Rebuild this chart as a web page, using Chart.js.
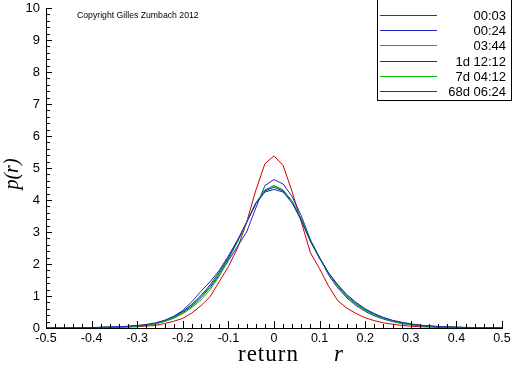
<!DOCTYPE html>
<html>
<head>
<meta charset="utf-8">
<script src="https://cdn.jsdelivr.net/npm/chart.js@4.4.1/dist/chart.umd.min.js"></script>
<style>
html,body{margin:0;padding:0;background:#fff;}
#wrap{width:512px;height:366px;position:relative;}
</style>
</head>
<body>
<div id="wrap"><canvas id="c" width="512" height="366"></canvas></div>
<script>
// return values r (bin centres)
const returns = [-0.5,-0.48,-0.46,-0.44,-0.42,-0.4,-0.38,-0.36,-0.34,-0.32,-0.3,-0.28,-0.26,-0.24,-0.22,-0.2,-0.18,-0.16,-0.14,-0.12,-0.1,-0.08,-0.06,-0.04,-0.02,0,0.02,0.04,0.06,0.08,0.1,0.12,0.14,0.16,0.18,0.2,0.22,0.24,0.26,0.28,0.3,0.32,0.34,0.36,0.38,0.4,0.42,0.44,0.46,0.48,0.5];

const seriesLabels = ["00:03","00:24","03:44","1d 12:12","7d 04:12","68d 06:24"];
const seriesColors = ["#cc0000","#2424c0","#00bb00","#2424c0","#00bb00","#2424c0"];

const p_0003 = [0.002,0.002,0.003,0.004,0.006,0.008,0.012,0.016,0.022,0.03,0.04,0.06,0.08,0.14,0.21,0.3,0.47,0.7,0.98,1.45,1.92,2.5,3.3,4.3,5.13,5.38,5.08,4.25,3.3,2.35,1.85,1.3,0.85,0.62,0.45,0.32,0.23,0.16,0.12,0.08,0.055,0.04,0.03,0.02,0.015,0.01,0.008,0.006,0.004,0.003,0.002];
const p_0024 = [0.003,0.004,0.005,0.007,0.009,0.012,0.017,0.024,0.033,0.045,0.065,0.09,0.14,0.21,0.32,0.48,0.68,0.95,1.27,1.65,2.1,2.55,3.0,3.75,4.45,4.64,4.5,4.1,3.5,2.75,2.2,1.65,1.25,0.94,0.7,0.52,0.38,0.28,0.2,0.14,0.1,0.07,0.05,0.035,0.025,0.018,0.013,0.009,0.006,0.004,0.003];
const p_0344 = [0.002,0.003,0.004,0.006,0.008,0.011,0.016,0.022,0.03,0.042,0.06,0.085,0.13,0.2,0.3,0.45,0.64,0.88,1.2,1.62,2.15,2.7,3.3,3.9,4.3,4.45,4.3,3.95,3.4,2.75,2.2,1.7,1.3,0.97,0.74,0.55,0.41,0.3,0.21,0.15,0.105,0.075,0.055,0.04,0.028,0.02,0.014,0.01,0.007,0.005,0.003];
const p_1d1212 = [0.003,0.004,0.005,0.007,0.01,0.014,0.02,0.028,0.038,0.052,0.075,0.1,0.15,0.23,0.36,0.55,0.82,1.15,1.45,1.8,2.25,2.75,3.3,3.9,4.28,4.4,4.28,3.95,3.38,2.72,2.18,1.7,1.32,1.0,0.77,0.58,0.44,0.32,0.23,0.17,0.12,0.085,0.06,0.045,0.032,0.023,0.016,0.011,0.008,0.005,0.004];
const p_7d0412 = [0.003,0.004,0.005,0.007,0.009,0.013,0.018,0.025,0.034,0.047,0.068,0.095,0.14,0.22,0.33,0.5,0.72,0.98,1.3,1.7,2.18,2.7,3.3,3.9,4.32,4.45,4.32,3.96,3.4,2.72,2.18,1.7,1.32,1.0,0.76,0.57,0.42,0.31,0.22,0.16,0.11,0.08,0.058,0.042,0.03,0.021,0.015,0.011,0.008,0.005,0.004];
const p_68d0624 = [0.003,0.004,0.006,0.008,0.011,0.015,0.021,0.03,0.04,0.055,0.078,0.11,0.16,0.24,0.36,0.52,0.74,1.02,1.35,1.75,2.2,2.72,3.3,3.88,4.25,4.33,4.25,3.9,3.35,2.7,2.18,1.72,1.35,1.04,0.8,0.6,0.45,0.33,0.24,0.18,0.13,0.09,0.065,0.048,0.034,0.025,0.018,0.013,0.009,0.006,0.005];

const seriesValues = [p_0003,p_0024,p_0344,p_1d1212,p_7d0412,p_68d0624];

const xTickStep = 0.1, xMinorStep = 0.02;
const yTickStep = 1, yMinorStep = 0.2;

const datasets = seriesValues.map((vals, i) => ({
  label: seriesLabels[i],
  data: returns.map((r, k) => ({x: r, y: vals[k]})),
  borderColor: seriesColors[i],
  backgroundColor: seriesColors[i],
  borderWidth: 1,
  pointRadius: 0,
  tension: 0,
  fill: false,
  order: seriesValues.length - i
}));

const decorPlugin = {
  id: 'decor',
  afterDraw(chart) {
    const ctx = chart.ctx;
    const xs = chart.scales.x, ys = chart.scales.y;
    const ca = chart.chartArea;
    ctx.save();
    // minor/major ticks pointing inward
    ctx.strokeStyle = '#000';
    ctx.lineWidth = 1;
    ctx.beginPath();
    const nx = Math.round((xs.max - xs.min) / xMinorStep);
    const perX = Math.round(xTickStep / xMinorStep);
    for (let i = 0; i <= nx; i++) {
      const v = xs.min + i * xMinorStep;
      const px = Math.round(xs.getPixelForValue(v)) + 0.5;
      const len = (i % perX === 0) ? 7 : 4;
      ctx.moveTo(px, ca.bottom);
      ctx.lineTo(px, ca.bottom - len);
    }
    const ny = Math.round((ys.max - ys.min) / yMinorStep);
    const perY = Math.round(yTickStep / yMinorStep);
    for (let i = 0; i <= ny; i++) {
      const v = ys.min + i * yMinorStep;
      const py = Math.round(ys.getPixelForValue(v)) + 0.5;
      const len = (i % perY === 0) ? 6 : 4;
      ctx.moveTo(ca.left, py);
      ctx.lineTo(ca.left + len, py);
    }
    ctx.stroke();

    // copyright
    ctx.fillStyle = '#000';
    ctx.font = '8.7px "Liberation Sans", Arial, sans-serif';
    ctx.textAlign = 'left';
    ctx.textBaseline = 'middle';
    ctx.fillText('Copyright Gilles Zumbach 2012', 77, 16);

    // y axis title p(r)
    ctx.save();
    ctx.translate(13, 174);
    ctx.rotate(-Math.PI / 2);
    ctx.font = 'italic 20px "Liberation Serif", "Times New Roman", serif';
    ctx.textAlign = 'center';
    ctx.textBaseline = 'middle';
    ctx.fillText('p(r)', 0, 0);
    ctx.restore();

    // x axis title "return r"
    ctx.save();
    ctx.textAlign = 'left';
    ctx.textBaseline = 'alphabetic';
    ctx.font = '23px "Liberation Serif", "Times New Roman", serif';
    if ('letterSpacing' in ctx) ctx.letterSpacing = '1px';
    ctx.fillText('return', 238, 361);
    ctx.font = 'italic 23px "Liberation Serif", "Times New Roman", serif';
    ctx.fillText('r', 334, 361);
    ctx.restore();

    // legend
    const bx = 377.5, by = -0.5, bw = 134, bh = 101;
    ctx.fillStyle = '#fff';
    ctx.fillRect(bx, by, bw, bh);
    ctx.strokeStyle = '#000';
    ctx.strokeRect(bx, by, bw, bh);
    ctx.font = '13px "Liberation Sans", Arial, sans-serif';
    ctx.textAlign = 'right';
    ctx.textBaseline = 'middle';
    chart.data.datasets.forEach((ds, i) => {
      const y = Math.round(15 + i * 15.2) + 0.5;
      ctx.strokeStyle = ds.borderColor;
      ctx.lineWidth = 1;
      ctx.beginPath();
      ctx.moveTo(380, y);
      ctx.lineTo(437, y);
      ctx.stroke();
      ctx.fillStyle = '#000';
      ctx.fillText(ds.label, 506, y + 0.5);
    });
    ctx.restore();
  }
};

new Chart(document.getElementById('c'), {
  type: 'line',
  data: { datasets },
  options: {
    responsive: false,
    animation: false,
    events: [],
    layout: { padding: { left: 0, right: 10, top: 8, bottom: 0 } },
    plugins: { legend: { display: false }, tooltip: { enabled: false } },
    scales: {
      x: {
        type: 'linear',
        min: -0.5, max: 0.5,
        grid: { display: false, drawTicks: false },
        border: { display: true, color: '#000', width: 1 },
        ticks: {
          stepSize: xTickStep,
          color: '#000',
          padding: 3,
          maxRotation: 0,
          autoSkip: false,
          font: { family: '"Liberation Sans", Arial, sans-serif', size: 12.5 },
          callback: v => (Math.round(v * 10) / 10).toString()
        },
        afterFit: s => { s.height = 38; s.paddingLeft = 0; s.paddingRight = 0; }
      },
      y: {
        min: 0, max: 10,
        grid: { display: false, drawTicks: false },
        border: { display: true, color: '#000', width: 1 },
        ticks: {
          stepSize: yTickStep,
          color: '#000',
          padding: 6,
          font: { family: '"Liberation Sans", Arial, sans-serif', size: 13 },
          callback: v => v.toString()
        },
        afterFit: s => { s.width = 46; s.paddingTop = 0; s.paddingBottom = 0; }
      }
    }
  },
  plugins: [decorPlugin]
});
</script>
</body>
</html>
